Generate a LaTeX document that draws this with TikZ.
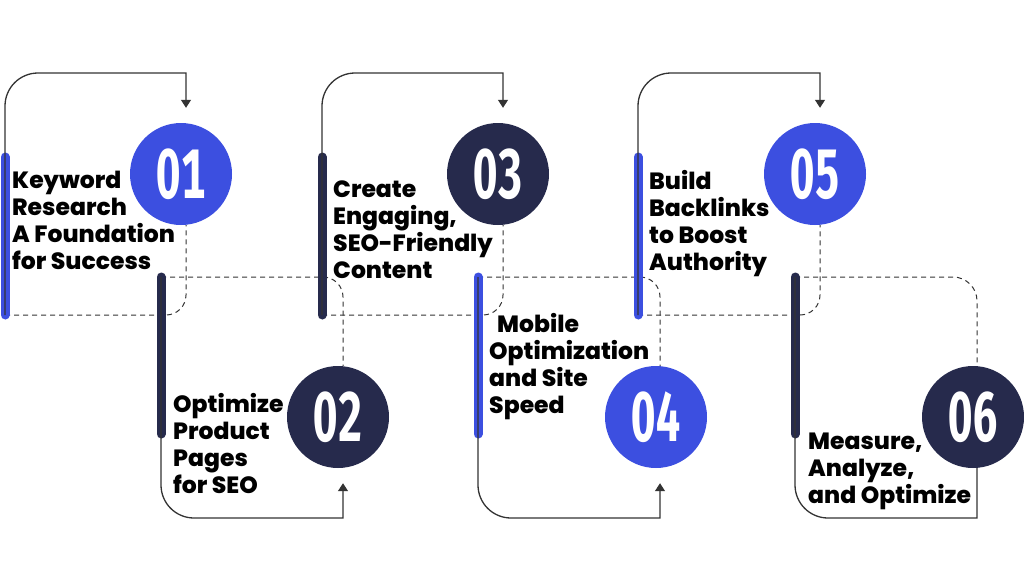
\documentclass[tikz,border=0pt]{standalone}
\usepackage{fontspec}
\usepackage{graphicx}
\setmainfont{Poppins}[BoldFont={* ExtraBold}]
\newfontfamily\numfont{Fira Sans}[Numbers={Lining,Monospaced}]
\usetikzlibrary{calc,arrows.meta}
\definecolor{cblue}{HTML}{3C4FE0}
\definecolor{cnavy}{HTML}{262A4C}
\definecolor{cline}{HTML}{333333}
\newcommand\nm[1]{\scalebox{0.62}[1]{#1}}
\tikzset{
  numcirc/.style={circle, minimum size=102pt, inner sep=0pt, text=white,
    font=\numfont\bfseries\fontsize{70}{70}\selectfont},
  bar/.style={line width=9pt, line cap=round},
  conn/.style={draw=cline, line width=1.3pt},
  dashconn/.style={draw=cline, line width=1pt, dash pattern=on 5pt off 4pt},
  lbl/.style={anchor=base west, align=left, inner sep=0pt,
    font=\bfseries\fontsize{23.5}{27}\selectfont},
  tip/.style={-{Triangle[length=8pt,width=10pt]}}
}
\begin{document}
\begin{tikzpicture}[x=1pt,y=-1pt]
\useasboundingbox (0,0) rectangle (1024,576);
% circles
\node[numcirc, fill=cblue] (c1) at (181,174) {\nm{01}};
\node[numcirc, fill=cnavy] (c2) at (338,417) {\nm{02}};
\node[numcirc, fill=cnavy] (c3) at (498,174) {\nm{03}};
\node[numcirc, fill=cblue] (c4) at (656,417) {\nm{04}};
\node[numcirc, fill=cblue] (c5) at (815,174) {\nm{05}};
\node[numcirc, fill=cnavy] (c6) at (973,417) {\nm{06}};
% bar ends
\coordinate (b1t) at (5,157);   \coordinate (b1b) at (5,315);
\coordinate (b2t) at (161,277); \coordinate (b2b) at (161,434);
\coordinate (b3t) at (322,157); \coordinate (b3b) at (322,315);
\coordinate (b4t) at (478,277); \coordinate (b4b) at (478,434);
\coordinate (b5t) at (638,157); \coordinate (b5b) at (638,315);
\coordinate (b6t) at (795,277); \coordinate (b6b) at (795,434);
% dashed connectors
\draw[dashconn] (b1b) -- ++(161,0) arc[start angle=90,end angle=0,radius=20] -- ($(c1.south)+(5,0)$);
\draw[dashconn] (b2t) -- ++(162,0) arc[start angle=270,end angle=360,radius=20] -- ($(c2.north)+(5,0)$);
\draw[dashconn] (b3b) -- ++(161,0) arc[start angle=90,end angle=0,radius=20] -- ($(c3.south)+(5,0)$);
\draw[dashconn] (b4t) -- ++(162,0) arc[start angle=270,end angle=360,radius=20] -- ($(c4.north)+(4,0)$);
\draw[dashconn] (b5b) -- ++(162,0) arc[start angle=90,end angle=0,radius=20] -- ($(c5.south)+(5,0)$);
\draw[dashconn] (b6t) -- ++(158,0) arc[start angle=270,end angle=360,radius=24] -- ($(c6.north)+(4,0)$);
% bars
\draw[bar, cblue] (b1t) -- (b1b);
\draw[bar, cnavy] (b2t) -- (b2b);
\draw[bar, cnavy] (b3t) -- (b3b);
\draw[bar, cblue] (b4t) -- (b4b);
\draw[bar, cblue] (b5t) -- (b5b);
\draw[bar, cnavy] (b6t) -- (b6b);
% solid connectors
\draw[conn,tip] (b1b) -- ++(0,-209) arc[start angle=180,end angle=270,radius=33] -| ($(c1.north)+(5,-15)$);
\draw[conn,tip] (b3b) -- ++(0,-209) arc[start angle=180,end angle=270,radius=33] -| ($(c3.north)+(5,-15)$);
\draw[conn,tip] (b5b) -- ++(0,-209) arc[start angle=180,end angle=270,radius=33] -| ($(c5.north)+(5,-15)$);
\draw[conn,tip] (b2t) -- ++(0,208) arc[start angle=180,end angle=90,radius=33] -| ($(c2.south)+(5,15)$);
\draw[conn,tip] (b4t) -- ++(0,208) arc[start angle=180,end angle=90,radius=33] -| ($(c4.south)+(4,15)$);
\draw[conn] (b6t) -- ++(0,208) arc[start angle=180,end angle=90,radius=33] -| ($(c6.south)+(4,0)$);
% labels (anchor = baseline of last line)
\node[lbl] (t1) at (12,269) {Keyword\\Research\\A Foundation\\for Success};
\node[lbl] (t2) at (173,493) {Optimize\\Product\\Pages\\for SEO};
\node[lbl] (t3) at (333,278) {Create\\Engaging,\\SEO-Friendly\\Content};
\node[lbl] (t4) at (489,413) {\hspace*{8pt}Mobile\\Optimization\\and Site\\Speed};
\node[lbl] (t5) at (649,270) {Build\\Backlinks\\to Boost\\Authority};
\node[lbl] (t6) at (808,503) {Measure,\\Analyze,\\and Optimize};
\end{tikzpicture}
\end{document}
